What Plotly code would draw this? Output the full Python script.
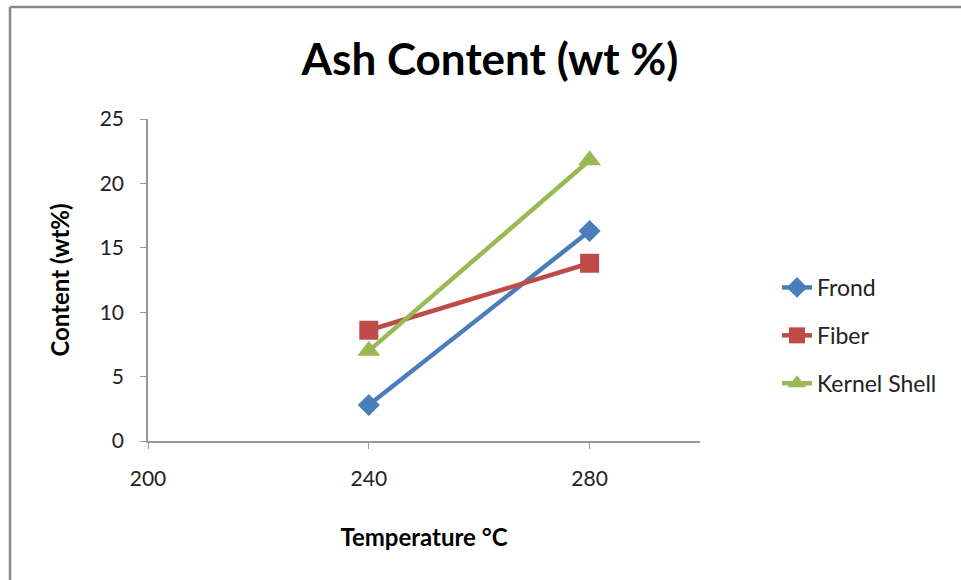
import plotly.graph_objects as go

temps = [240, 280]
series_names = ["Frond", "Fiber", "Kernel Shell"]
frond = [2.8, 16.3]
fiber = [8.6, 13.8]
kernel_shell = [7.0, 21.8]
x_ticks = [200, 240, 280]
y_ticks = [0, 5, 10, 15, 20, 25]

colors = ["#4A7EBB", "#BE4B48", "#98B954"]
symbols = ["diamond", "square", "triangle-up"]
sizes = [17, 19, 20]

FONT = "Lato, Open Sans, sans-serif"

fig = go.Figure()
for i, (name, vals) in enumerate(zip(series_names, [frond, fiber, kernel_shell])):
    fig.add_trace(go.Scatter(
        x=temps, y=vals, name=name, mode="lines+markers",
        line=dict(color=colors[i], width=4.5),
        marker=dict(symbol=symbols[i], size=sizes[i], color=colors[i]),
        legendgroup=name,
    ))

L, R, T, B = 148, 261, 119, 139
W, H = 961, 580
pw, ph = W - L - R, H - T - B

def px(xp):
    return (xp - L) / pw

def py(yp):
    return (H - B - yp) / ph

fig.update_layout(
    width=W, height=H,
    margin=dict(l=L, r=R, t=T, b=B),
    paper_bgcolor="white", plot_bgcolor="white",
    font=dict(family=FONT, color="#222"),
    title=dict(text="<b>Ash Content (wt %)</b>", x=490 / W, xanchor="center",
               y=1 - 60 / H, yanchor="middle",
               font=dict(size=44, family=FONT, color="black")),
    showlegend=True,
    legend=dict(x=px(777), y=py(266), xanchor="left", yanchor="top",
                font=dict(size=23, family=FONT, color="#222"),
                tracegroupgap=15, bgcolor="rgba(0,0,0,0)"),
    xaxis=dict(range=[200, 300], tickvals=x_ticks, showgrid=False, zeroline=False,
               showline=True, linecolor="#999", linewidth=1.5,
               ticks="outside", ticklen=6, tickcolor="#999", ticklabelstandoff=12,
               tickfont=dict(size=21, family=FONT, color="#222"),
               title=dict(text="<b>Temperature °C</b>", standoff=40,
                          font=dict(size=24, family=FONT, color="black"))),
    yaxis=dict(range=[0, 25], tickvals=y_ticks, showgrid=False, zeroline=False,
               showline=True, linecolor="#999", linewidth=1.5,
               ticks="outside", ticklen=6, tickcolor="#999", ticklabelstandoff=12,
               tickfont=dict(size=21, family=FONT, color="#222"),
               title=dict(text="<b>Content (wt%)</b>", standoff=23,
                          font=dict(size=24, family=FONT, color="black"))),
    shapes=[
        dict(type="line", xref="paper", yref="paper", x0=px(10), x1=px(961), y0=py(7), y1=py(7),
             line=dict(color="#888", width=2.5)),
        dict(type="line", xref="paper", yref="paper", x0=px(10), x1=px(10), y0=py(7), y1=py(580),
             line=dict(color="#888", width=2.5)),
    ],
)

fig.write_html("out.html")
